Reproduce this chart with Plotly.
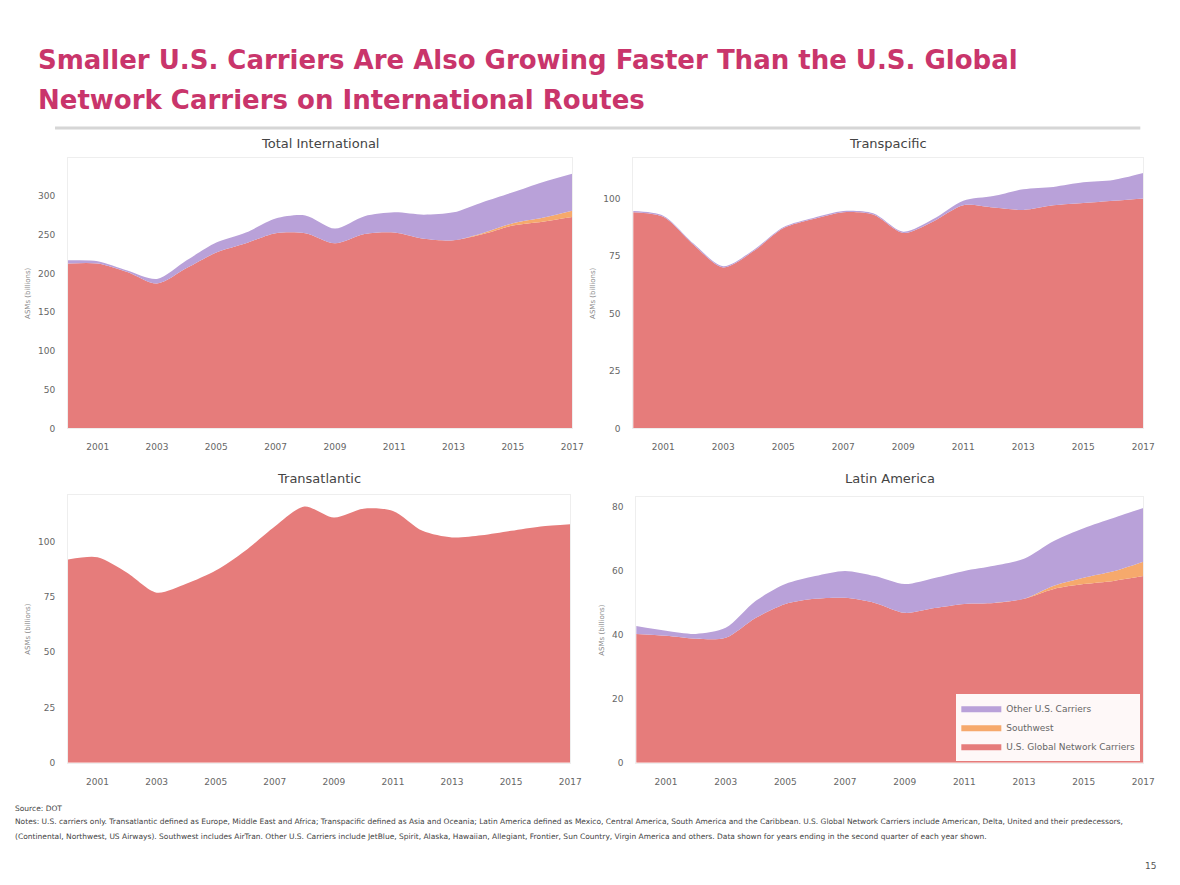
import plotly.graph_objects as go

RED = '#E67C7B'
ORANGE = '#F6A96C'
PURPLE = '#B9A1D9'
TITLE_PINK = '#C9356B'

years = list(range(2000, 2018))
tick_years = [2001, 2003, 2005, 2007, 2009, 2011, 2013, 2015, 2017]

# ASMs (billions)
total_network = [213, 213, 202, 187, 207, 227, 239, 252, 252, 239, 251, 253, 245, 243, 251, 262, 267, 273]
total_southwest = [0, 0, 0, 0, 0, 0, 0, 0, 0, 0, 0, 0, 0, 0, 1.5, 3, 5, 8]
total_other = [4, 3, 2, 6, 10, 13, 14, 19, 23, 19, 23, 26, 31, 36, 40, 40, 46, 48]

tp_network = [94, 92, 80, 70, 77, 87, 91, 94, 93, 85, 90, 97, 96, 95, 97, 98, 99, 100]
tp_southwest = [0] * 18
tp_other = [0.5, 0.5, 0.5, 0.5, 0.5, 0.5, 0.5, 0.5, 0.5, 0.5, 1, 2, 5, 9, 8, 9, 9, 11]

ta_network = [92, 93, 86, 77, 81, 87, 96, 107, 116, 111, 115, 114, 105, 102, 103, 105, 107, 108]
ta_southwest = [0] * 18
ta_other = [0] * 18

la_network = [40.3, 39.7, 38.8, 39.1, 45.3, 49.7, 51.3, 51.6, 50.0, 46.9, 48.4, 49.7, 50.0, 51.3, 54.4, 55.9, 56.9, 58.4]
la_southwest = [0, 0, 0, 0, 0, 0, 0, 0, 0, 0, 0, 0, 0, 0, 1, 2, 3, 4.5]
la_other = [2.5, 1.6, 1.5, 3.1, 5.3, 6.2, 7.1, 8.4, 8.4, 9.0, 9.4, 10.3, 11.6, 12.5, 14.0, 15.5, 16.7, 16.8]


# page pixel -> paper fraction (the photographed page comes out ~1% smaller)
def fx(px):
    return px / (1180 * 0.9904)


def fy(px):
    return 1 - px / (885 * 0.9934)


panels = [
    # title, network, southwest, other, y ticks, y max, x domain, y domain
    ('Total International', total_network, total_southwest, total_other,
     [0, 50, 100, 150, 200, 250, 300], 349, [fx(68), fx(572)], [fy(428), fy(158)], 143),
    ('Transpacific', tp_network, tp_southwest, tp_other,
     [0, 25, 50, 75, 100], 117.5, [fx(633), fx(1143)], [fy(428), fy(158)], 143),
    ('Transatlantic', ta_network, ta_southwest, ta_other,
     [0, 25, 50, 75, 100], 121, [fx(68), fx(570)], [fy(762), fy(495)], 478),
    ('Latin America', la_network, la_southwest, la_other,
     [0, 20, 40, 60, 80], 83, [fx(636), fx(1143)], [fy(762), fy(497)], 478),
]

series_names = ['U.S. Global Network Carriers', 'Southwest', 'Other U.S. Carriers']
series_colors = [RED, ORANGE, PURPLE]

fig = go.Figure()
layout = {}
annotations = []

for i, (title, net, sw, oth, yticks, ymax, xdom, ydom, title_y) in enumerate(panels):
    n = '' if i == 0 else str(i + 1)
    for name, vals, color in zip(series_names, [net, sw, oth], series_colors):
        fig.add_trace(go.Scatter(
            x=years, y=vals, name=name,
            mode='lines', stackgroup='s' + str(i),
            line=dict(width=0, shape='spline', smoothing=0.8, color=color),
            fillcolor=color,
            xaxis='x' + n, yaxis='y' + n,
            showlegend=(i == 3),
            legendgroup=name,
        ))
    layout['xaxis' + n] = dict(
        domain=xdom, anchor='y' + n, range=[2000, 2017],
        tickvals=tick_years, ticktext=[str(t) for t in tick_years],
        tickfont=dict(size=9, color='#666'), showgrid=False, zeroline=False,
        showline=True, linecolor='#eeeeee', mirror=True,
        ticks='outside', ticklen=10, tickcolor='rgba(0,0,0,0)',
    )
    layout['yaxis' + n] = dict(
        domain=ydom, anchor='x' + n, range=[0, ymax],
        tickvals=yticks, tickfont=dict(size=9, color='#666'),
        showgrid=False, zeroline=False,
        showline=True, linecolor='#eeeeee', mirror=True,
        ticks='outside', ticklen=10, tickcolor='rgba(0,0,0,0)',
        title=dict(text='ASMs (billions)', font=dict(size=7, color='#888'), standoff=6),
    )
    annotations.append(dict(
        text=title, x=(xdom[0] + xdom[1]) / 2, y=fy(title_y),
        xref='paper', yref='paper', xanchor='center', yanchor='middle',
        showarrow=False, font=dict(size=13, color='#444'),
    ))

title_lines = ['Smaller U.S. Carriers Are Also Growing Faster Than the U.S. Global',
               'Network Carriers on International Routes']
for k, line in enumerate(title_lines):
    annotations.append(dict(
        text='<b>' + line + '</b>',
        x=fx(36), y=fy(60 + 40 * k), xref='paper', yref='paper',
        xanchor='left', yanchor='middle', align='left', showarrow=False,
        font=dict(family='DejaVu Sans', size=26, color=TITLE_PINK),
    ))

footer_lines = [
    (808, 'Source: DOT'),
    (821, 'Notes: U.S. carriers only. Transatlantic defined as Europe, Middle East and Africa; Transpacific defined as Asia and Oceania; '
          'Latin America defined as Mexico, Central America, South America and the Caribbean. U.S. Global Network Carriers include American, '
          'Delta, United and their predecessors,'),
    (836, '(Continental, Northwest, US Airways). Southwest includes AirTran. Other U.S. Carriers include JetBlue, '
          'Spirit, Alaska, Hawaiian, Allegiant, Frontier, Sun Country, Virgin America and others. Data shown for years ending in the second quarter of each year shown.'),
]
for ypx, text in footer_lines:
    annotations.append(dict(
        text=text, x=fx(13), y=fy(ypx), xref='paper', yref='paper',
        xanchor='left', yanchor='middle', align='left', showarrow=False,
        font=dict(size=7.5, color='#444'),
    ))

annotations.append(dict(
    text='15', x=fx(1150), y=fy(865), xref='paper', yref='paper',
    xanchor='center', yanchor='middle', showarrow=False,
    font=dict(size=9, color='#555'),
))

fig.update_layout(
    **layout,
    annotations=annotations,
    shapes=[dict(type='line', xref='paper', yref='paper',
                 x0=fx(55), x1=fx(1140), y0=fy(128), y1=fy(128),
                 line=dict(color='#d6d6d6', width=3))],
    width=1180, height=885,
    margin=dict(l=0, r=0, t=0, b=0),
    paper_bgcolor='white', plot_bgcolor='white',
    font=dict(family='DejaVu Sans', color='#555'),
    showlegend=True,
    legend=dict(
        x=fx(1140), y=fy(760), xanchor='right', yanchor='bottom',
        traceorder='reversed', bgcolor='rgba(255,255,255,0.95)',
        font=dict(size=9, color='#666'), itemwidth=40,
        tracegroupgap=0,
    ),
)

fig.write_html('out.html', config={'displayModeBar': False},
               post_script="document.body.style.margin='0';document.body.style.overflow='hidden';")
